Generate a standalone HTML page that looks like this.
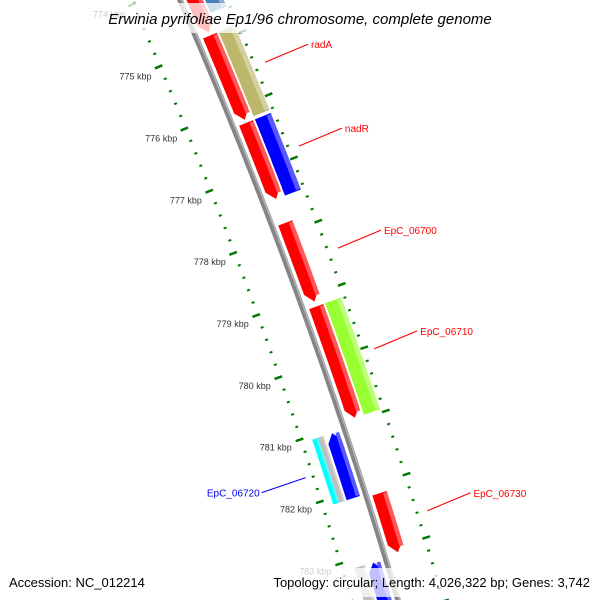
<!DOCTYPE html>
<html><head><meta charset="utf-8"><style>
html,body{margin:0;padding:0;background:#fff;width:600px;height:600px;overflow:hidden;}
svg{display:block;font-family:"Liberation Sans","DejaVu Sans",sans-serif;}
</style></head><body>
<svg id="map" width="600" height="600" viewBox="0 0 600 600" xmlns="http://www.w3.org/2000/svg" overflow="hidden">
<rect width="600" height="600" fill="#fff"/>
<g id="plot"></g>
<rect x="92" y="3" width="416" height="30" fill="#fff" fill-opacity="0.75"/>
<text x="300" y="24" text-anchor="middle" font-size="15" font-style="italic" fill="#000">Erwinia pyrifoliae Ep1/96 chromosome, complete genome</text>
<rect x="3" y="568" width="146" height="29" fill="#fff" fill-opacity="0.75"/>
<text x="9" y="587" font-size="13" fill="#000">Accession: NC_012214</text>
<rect x="255" y="568" width="345" height="29" fill="#fff" fill-opacity="0.75"/>
<text x="590" y="587" text-anchor="end" font-size="13" fill="#000">Topology: circular; Length: 4,026,322 bp; Genes: 3,742</text>
</svg>
<script>
// feature data (kbp)
const geneStarts = [773.9, 774.87, 776.26, 777.85, 779.18, 782.15, 773.9, 774.87, 776.26, 779.18, 781.06, 783.13, 781.06, 781.06, 783.13];
const geneEnds   = [774.82, 776.21, 777.47, 779.10, 780.95, 783.09, 774.57, 776.21, 777.47, 780.95, 782.10, 784.4, 782.10, 782.10, 784.4];
const geneRings  = [1, 1, 1, 1, 1, 1, 2, 2, 2, 2, -1, -1, -2, -3, -4];
const geneStrand = [1, 1, 1, 1, 1, 1, 0, 0, 0, 0, -1, -1, 0, 0, 0];
const geneColors = ["#ff0000","#ff0000","#ff0000","#ff0000","#ff0000","#ff0000","#4682b4","#bdb76b","#0000ff","#99ff33","#0000ff","#0000ff","#bebebe","#00ffff","#bebebe"];
const labelNames = ["radA","nadR","EpC_06700","EpC_06710","EpC_06730","EpC_06720"];
const labelGene  = [1, 2, 3, 4, 5, 10];
const labelColors = ["#ff0000","#ff0000","#ff0000","#ff0000","#ff0000","#0000ff"];
const tickMajors = [774,775,776,777,778,779,780,781,782,783,784];
const tickLabels = ["774 kbp","775 kbp","776 kbp","777 kbp","778 kbp","779 kbp","780 kbp","781 kbp","782 kbp","783 kbp","784 kbp"];

const NS="http://www.w3.org/2000/svg";
const plot=document.getElementById('plot');
function kToU(k){return 49+62.7*(k-775);}
function xb(u){return 180+0.4334*u-0.0001169*u*u;}
function P(u,d){const s=0.4334-0.0002338*u;const L=Math.sqrt(1+s*s);return [xb(u)+d/L, u-d*s/L];}
const ringD={1:[6,21],2:[23,40],"-1":[-20,-6],"-2":[-28,-22],"-3":[-34,-28],"-4":[-33,-22]};
function el(tag,attrs){const e=document.createElementNS(NS,tag);for(const k in attrs)e.setAttribute(k,attrs[k]);return e;}
function band(u0,u1,d0,d1,strand,aw){
  const pts=[];const st=3;
  let a=u0,b=u1;
  if(strand===1)b=u1-aw; if(strand===-1)a=u0+aw;
  for(let u=a;u<=b;u+=st)pts.push(P(u,d1));pts.push(P(b,d1));
  if(strand===1)pts.push(P(u1,(d0+d1)/2));
  pts.push(P(b,d0));
  for(let u=b;u>=a;u-=st)pts.push(P(u,d0));pts.push(P(a,d0));
  if(strand===-1)pts.push(P(u0,(d0+d1)/2));
  return pts.map(p=>p[0].toFixed(1)+','+p[1].toFixed(1)).join(' ');
}
// backbone
let bb='';for(let u=-20;u<=620;u+=5){const p=P(u,0);bb+=(u===-20?'M':'L')+p[0].toFixed(1)+','+p[1].toFixed(1);}
let bb2='';for(let u=-20;u<=620;u+=5){const p=P(u,1.6);bb2+=(u===-20?'M':'L')+p[0].toFixed(1)+','+p[1].toFixed(1);}
const back=el('path',{d:bb,stroke:'#858585','stroke-width':5.5,fill:'none'});


plot.appendChild(back);
const back2=el('path',{d:bb2,stroke:'#b5b5b5','stroke-width':1.5,fill:'none'});


plot.appendChild(back2);
// ticks
for(let i=0;i<=50;i++){
  const k=774+i*0.2;const u=kToU(k);const major=(i%5===0);
  [-1,1].forEach((side)=>{
    const d0=side<0?(major?-50:-46):(major?41:42);
    const d1=side<0?(major?-42:-43):(major?49:45);
    const a=P(u,d0),b=P(u,d1);
    const t=el('line',{x1:a[0],y1:a[1],x2:b[0],y2:b[1],stroke:'#007a00','stroke-width':major?2.5:2});
    
    
    plot.appendChild(t);
  });
}
tickMajors.forEach((k,i)=>{
  const p=P(kToU(k),-71);
  const t=el('text',{x:p[0].toFixed(1),y:(p[1]+3).toFixed(1),'text-anchor':'middle','font-size':9,fill:'#333'});
  t.textContent=tickLabels[i];
  
  
  plot.appendChild(t);
});
// genes
function lighten(c,f){const n=parseInt(c.slice(1),16);let r=n>>16,g=(n>>8)&255,b=n&255;r=Math.round(r+(255-r)*f);g=Math.round(g+(255-g)*f);b=Math.round(b+(255-b)*f);return 'rgb('+r+','+g+','+b+')';}
geneStarts.forEach((s,i)=>{
  const u0=kToU(s),u1=kToU(geneEnds[i]);const [d0,d1]=ringD[geneRings[i]];
  const g=el('g',{});
  
  
  const body=el('polygon',{points:band(u0,u1,d0,d1,geneStrand[i],9),fill:geneColors[i]});
  
  
  g.appendChild(body);
  const hd0=d1-(d1-d0)*0.28;
  const hi=el('polygon',{points:band(u0+1,u1-(geneStrand[i]===1?5:1),hd0,d1,0,0),fill:lighten(geneColors[i],0.35)});
  
  
  g.appendChild(hi);
  plot.appendChild(g);
});
// labels
labelNames.forEach((name,i)=>{
  const gi=labelGene[i];const um=(kToU(geneStarts[gi])+kToU(geneEnds[gi]))/2;
  const right=geneRings[gi]>0;
  const a=P(um,right?54:-52);
  const b=right?[a[0]+43,a[1]-18]:[a[0]-44,a[1]+15];
  const ln=el('line',{x1:a[0],y1:a[1],x2:b[0],y2:b[1],stroke:labelColors[i],'stroke-width':1.1});
  
  
  plot.appendChild(ln);
  const t=el('text',{x:right?b[0]+3:b[0]-2,y:b[1]+4,'text-anchor':right?'start':'end','font-size':10,fill:labelColors[i]});
  t.textContent=name;
  
  
  plot.appendChild(t);
});
</script>
</body></html>
